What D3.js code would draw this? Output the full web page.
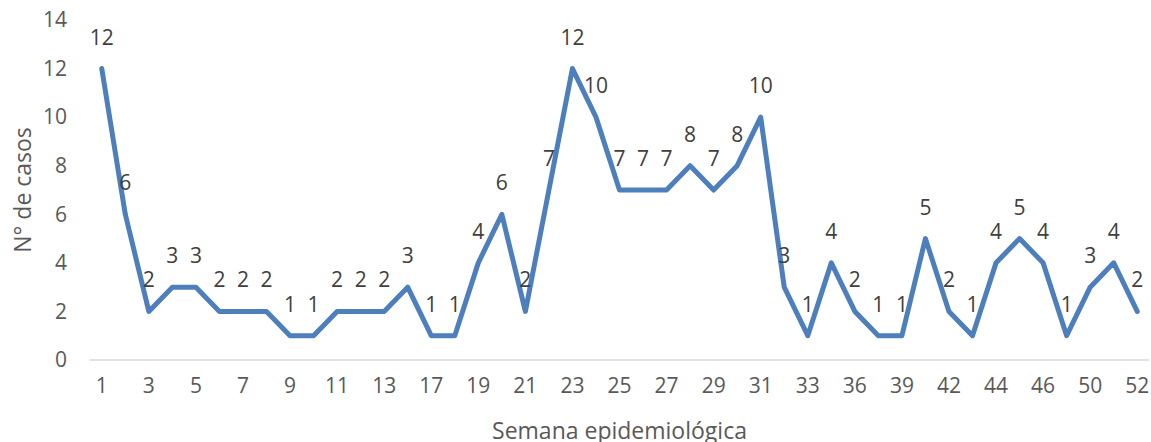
<!DOCTYPE html>
<html>
<head>
<meta charset="utf-8">
<script src="https://cdn.jsdelivr.net/npm/d3@7"></script>
<style>
  body { margin: 0; background: #fff; }
  svg text { font-family: "Open Sans", sans-serif; fill: #595959; }
</style>
</head>
<body>
<div id="graphDiv"></div>
<script>
// weeks shown on the x axis (every other one gets a label)
const weeks = [1, 2, 3, 4, 5, 6, 7, 8, 9, 10, 11, 12, 13, 14, 17, 18, 19, 20, 21, 22,
    23, 24, 25, 26, 27, 28, 29, 30, 31, 32, 33, 34, 36, 38, 39, 41, 42, 43, 44, 45,
    46, 48, 50, 51, 52]
const cases = [12, 6, 2, 3, 3, 2, 2, 2, 1, 1, 2, 2, 2, 3, 1, 1, 4, 6, 2, 7,
    12, 10, 7, 7, 7, 8, 7, 8, 10, 3, 1, 4, 2, 1, 1, 5, 2, 1, 4, 5,
    4, 1, 3, 4, 2]
const yTicks = [0, 2, 4, 6, 8, 10, 12, 14]

const W = 1151, H = 442
const margin = { left: 90, right: 2, top: 20 }
const plotBottom = 360

const svg = d3.select("#graphDiv")
    .append("svg")
    .attr("width", W)
    .attr("height", H)

const xScale = d3.scaleBand()
    .domain(weeks)
    .range([margin.left, W - margin.right])

const yScale = d3.scaleLinear()
    .domain([0, 14])
    .range([plotBottom, margin.top])

const cx = w => xScale(w) + xScale.bandwidth() / 2

// y axis labels (no line, no gridlines)
svg.append("g")
    .selectAll("text")
    .data(yTicks)
    .join("text")
    .attr("x", 67)
    .attr("y", d => yScale(d))
    .attr("dy", "0.35em")
    .attr("text-anchor", "end")
    .style("font-size", "21px")
    .text(d => d)

// baseline
svg.append("line")
    .attr("x1", margin.left)
    .attr("x2", W - margin.right)
    .attr("y1", yScale(0))
    .attr("y2", yScale(0))
    .style("stroke", "#d9d9d9")
    .style("stroke-width", 1.5)

// x axis labels, every other week
svg.append("g")
    .selectAll("text")
    .data(weeks.filter((d, i) => i % 2 === 0))
    .join("text")
    .attr("x", d => cx(d))
    .attr("y", 393)
    .attr("text-anchor", "middle")
    .style("font-size", "21px")
    .text(d => d)

// axis titles
svg.append("text")
    .attr("x", (margin.left + W - margin.right) / 2)
    .attr("y", 439)
    .attr("text-anchor", "middle")
    .style("font-size", "23px")
    .text("Semana epidemiológica")

svg.append("text")
    .attr("transform", `translate(31, ${(margin.top + plotBottom) / 2}) rotate(-90)`)
    .attr("text-anchor", "middle")
    .style("font-size", "23px")
    .text("N° de casos")

const points = weeks.map((w, i) => ({ week: w, value: cases[i] }))

const line = d3.line()
    .x(d => cx(d.week))
    .y(d => yScale(d.value))

svg.append("path")
    .datum(points)
    .attr("d", line)
    .style("fill", "none")
    .style("stroke", "#4e7fbd")
    .style("stroke-width", 5)
    .style("stroke-linejoin", "round")
    .style("stroke-linecap", "round")

// data labels above each point
svg.append("g")
    .selectAll("text")
    .data(points)
    .join("text")
    .attr("x", d => cx(d.week))
    .attr("y", d => yScale(d.value) - 24)
    .attr("text-anchor", "middle")
    .style("font-size", "21px")
    .style("fill", "#404040")
    .text(d => d.value)
</script>
</body>
</html>
